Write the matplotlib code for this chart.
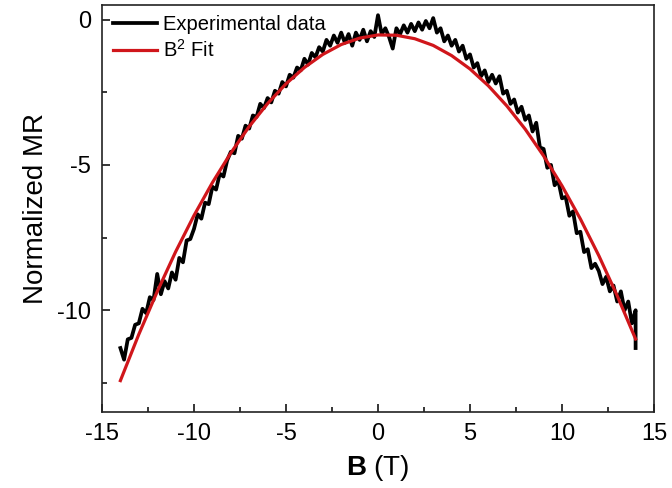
import matplotlib
matplotlib.use("Agg")
import matplotlib.pyplot as plt
from matplotlib.ticker import MultipleLocator

plt.rcParams['font.family'] = ['Liberation Sans', 'DejaVu Sans']
plt.rcParams['mathtext.fontset'] = 'custom'
plt.rcParams['mathtext.rm'] = 'Liberation Sans'
plt.rcParams['mathtext.bf'] = 'Liberation Sans:bold'
plt.rcParams['axes.unicode_minus'] = False

b_exp = [-14.0, -13.8, -13.6, -13.4, -13.2, -13.0, -12.8, -12.6, -12.4, -12.2,
         -12.0, -11.8, -11.6, -11.4, -11.2, -11.0, -10.8, -10.6, -10.4, -10.2,
         -10.0, -9.8, -9.6, -9.4, -9.2, -9.0, -8.8, -8.6, -8.4, -8.2,
         -8.0, -7.8, -7.6, -7.4, -7.2, -7.0, -6.8, -6.6, -6.4, -6.2,
         -6.0, -5.8, -5.6, -5.4, -5.2, -5.0, -4.8, -4.6, -4.4, -4.2,
         -4.0, -3.8, -3.6, -3.4, -3.2, -3.0, -2.8, -2.6, -2.4, -2.2,
         -2.0, -1.8, -1.6, -1.4, -1.2, -1.0, -0.8, -0.6, -0.4, -0.2,
         0.0, 0.2, 0.4, 0.6, 0.8, 1.0, 1.2, 1.4, 1.6, 1.8,
         2.0, 2.2, 2.4, 2.6, 2.8, 3.0, 3.2, 3.4, 3.6, 3.8,
         4.0, 4.2, 4.4, 4.6, 4.8, 5.0, 5.2, 5.4, 5.6, 5.8,
         6.0, 6.2, 6.4, 6.6, 6.8, 7.0, 7.2, 7.4, 7.6, 7.8,
         8.0, 8.2, 8.4, 8.6, 8.8, 9.0, 9.2, 9.4, 9.6, 9.8,
         10.0, 10.2, 10.4, 10.6, 10.8, 11.0, 11.2, 11.4, 11.6, 11.8,
         12.0, 12.2, 12.4, 12.6, 12.8, 13.0, 13.2, 13.4, 13.6, 13.8,
         14.0, 14.0]
mr_exp = [-11.3, -11.7, -11.0, -10.95, -10.5, -10.45, -9.95, -10.1, -9.55, -9.65,
          -8.75, -9.45, -9.0, -9.25, -8.7, -8.95, -8.2, -8.35, -7.6, -7.55,
          -7.2, -6.7, -6.85, -6.3, -6.35, -5.75, -5.85, -5.3, -5.4, -4.85,
          -4.55, -4.6, -4.0, -4.1, -3.65, -3.75, -3.3, -3.35, -2.9, -3.05,
          -2.7, -2.85, -2.45, -2.55, -2.15, -2.3, -1.9, -2.0, -1.65, -1.75,
          -1.35, -1.55, -1.15, -1.3, -0.95, -1.1, -0.7, -0.9, -0.55, -0.8,
          -0.45, -0.8, -0.5, -0.9, -0.45, -0.7, -0.35, -0.75, -0.4, -0.6,
          0.15, -0.5, -0.3, -0.6, -1.0, -0.3, -0.5, -0.2, -0.45, -0.15,
          -0.4, -0.1, -0.35, -0.05, -0.3, 0.05, -0.45, -0.3, -0.75, -0.55,
          -0.9, -0.7, -1.1, -0.9, -1.35, -1.2, -1.65, -1.5, -1.95, -1.75,
          -2.15, -1.9, -2.2, -1.95, -2.55, -2.45, -2.9, -2.75, -3.2, -3.0,
          -3.45, -3.3, -3.85, -3.55, -4.4, -4.45, -5.1, -5.0, -5.7, -5.55,
          -6.15, -6.1, -6.75, -6.6, -7.35, -7.3, -8.0, -7.9, -8.55, -8.4,
          -8.65, -9.1, -8.85, -9.35, -9.15, -9.7, -9.35, -10.0, -9.7, -10.45,
          -10.0, -11.3]

# B^2 fit curve
b_fit = [-14, -13, -12, -11, -10, -9, -8, -7, -6, -5, -4, -3, -2, -1, 0,
         1, 2, 3, 4, 5, 6, 7, 8, 9, 10, 11, 12, 13, 14]
mr_fit = [-12.42, -10.83, -9.36, -7.99, -6.74, -5.61, -4.59, -3.68, -2.89, -2.21,
          -1.65, -1.20, -0.86, -0.64, -0.53, -0.54, -0.66, -0.89, -1.24, -1.70,
          -2.28, -2.97, -3.77, -4.69, -5.72, -6.86, -8.12, -9.50, -10.99]

fig = plt.figure(figsize=(6.72, 4.88), dpi=100)
ax = fig.add_axes([102/672, 1-412/488, 552/672, 407/488])

ax.plot(b_exp, mr_exp, color='k', lw=2.7, label='Experimental data')
ax.plot(b_fit, mr_fit, color='#d0161b', lw=2.3, label='B$^2$ Fit')

ax.set_xlim(-15, 15)
ax.set_ylim(-13.5, 0.5)
ax.xaxis.set_major_locator(MultipleLocator(5))
ax.xaxis.set_minor_locator(MultipleLocator(2.5))
ax.yaxis.set_major_locator(MultipleLocator(5))
ax.yaxis.set_minor_locator(MultipleLocator(2.5))
ax.tick_params(which='both', direction='in', labelsize=17, pad=8, width=1.1)
ax.tick_params(which='major', length=6)
ax.tick_params(which='minor', length=3.5)
for s in ax.spines.values():
    s.set_linewidth(1.2)
    s.set_color('#222222')

ax.set_xlabel(r'$\mathbf{B}$ (T)', fontsize=20, labelpad=6)
ax.set_ylabel('Normalized MR', fontsize=20, labelpad=6)

ax.legend(loc='upper left', bbox_to_anchor=(11/552, 1-10/407), frameon=False,
          fontsize=14.5, borderaxespad=0, borderpad=0, handlelength=2.2,
          handletextpad=0.3, labelspacing=0.25)

fig.savefig('out.png', dpi=100)
